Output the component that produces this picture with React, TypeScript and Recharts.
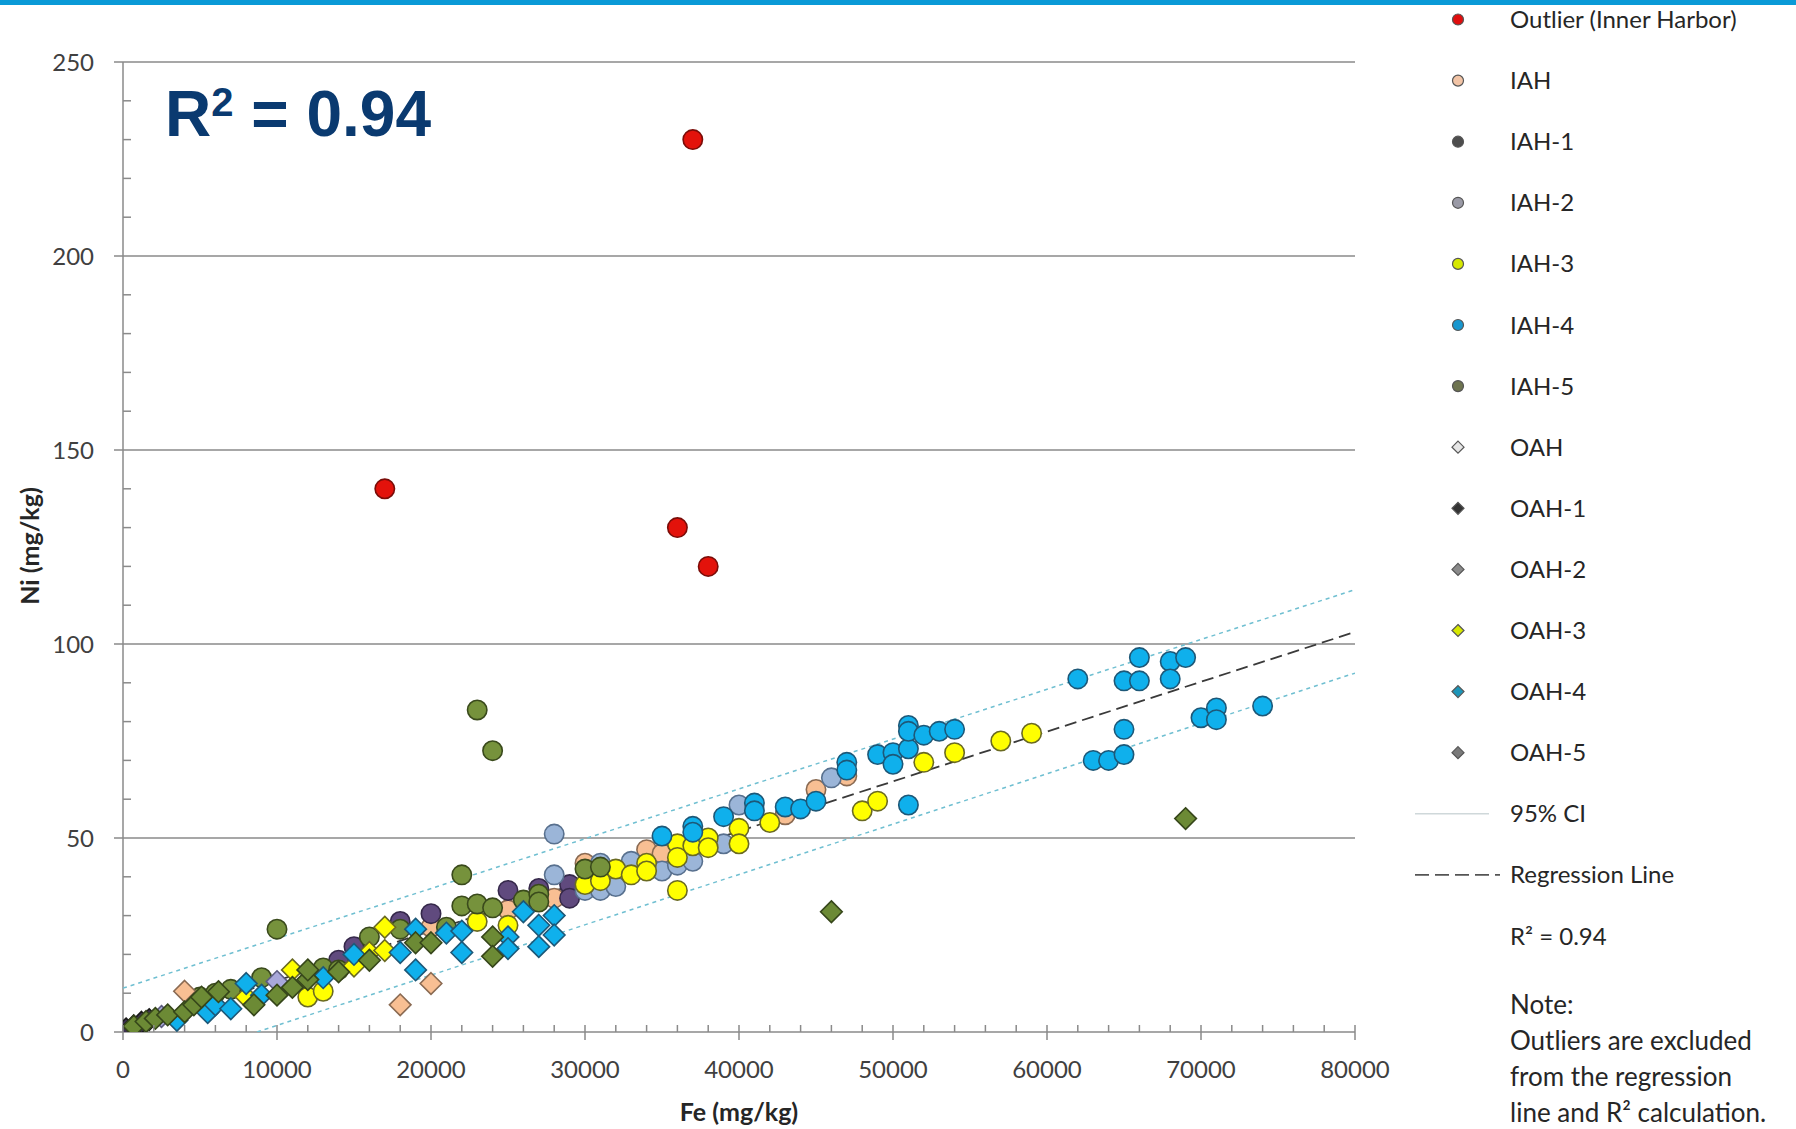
import React from 'react';
import { ScatterChart, Scatter, XAxis, YAxis, ReferenceLine } from 'recharts';

type Pair = [number, number];

// [Fe, Ni] in mg/kg
const outlierInnerHarbor: Pair[] = [[17000, 140], [37000, 230], [36000, 130], [38000, 120]];
const iah: Pair[] = [[20000, 27], [25000, 31.5], [28000, 34.5], [30000, 43.5], [34000, 47], [35000, 46], [43000, 56], [45000, 62.5], [47000, 66]];
const iah1: Pair[] = [[14000, 18.5], [15000, 22], [18000, 28.5], [20000, 30.5], [25000, 36.5], [27000, 37], [29000, 38], [29000, 34.5]];
const iah2: Pair[] = [[28000, 51], [28000, 40.5], [30000, 36.5], [31000, 36.5], [31000, 43.5], [32000, 37.5], [33000, 44], [35000, 41.5], [36000, 43], [37000, 44], [39000, 48.5], [40000, 58.5], [46000, 65.5]];
const iah3: Pair[] = [[12000, 9], [13000, 10.5], [23000, 28.5], [25000, 27.5], [30000, 38], [31000, 39], [32000, 42], [33000, 40.5], [34000, 43.5], [34000, 41.5], [36000, 48.5], [36000, 45], [36000, 36.5], [37000, 48], [38000, 50], [38000, 47.5], [40000, 52.5], [40000, 48.5], [42000, 54], [48000, 57], [49000, 59.5], [52000, 69.5], [54000, 72], [57000, 75], [59000, 77]];
const iah4: Pair[] = [[35000, 50.5], [37000, 53], [37000, 51.5], [39000, 55.5], [41000, 59], [41000, 57], [43000, 58], [44000, 57.5], [45000, 59.5], [47000, 69.5], [47000, 67.5], [49000, 71.5], [50000, 72], [50000, 69], [51000, 73], [51000, 79], [51000, 77.5], [51000, 58.5], [52000, 76.5], [53000, 77.5], [54000, 78], [62000, 91], [63000, 70], [64000, 70], [65000, 71.5], [65000, 78], [65000, 90.5], [66000, 90.5], [66000, 96.5], [68000, 95.5], [68000, 91], [69000, 96.5], [70000, 81], [71000, 83.5], [71000, 80.5], [74000, 84]];
const iah5: Pair[] = [[5000, 9], [6000, 10], [7000, 11], [9000, 14], [10000, 26.5], [13000, 16.5], [14000, 16], [16000, 24.5], [18000, 26.5], [21000, 27], [22000, 40.5], [22000, 32.5], [23000, 83], [23000, 33], [24000, 72.5], [24000, 32], [26000, 34], [27000, 35.5], [27000, 33.5], [30000, 42], [31000, 42.5]];
const oah: Pair[] = [[4000, 10.5], [18000, 7], [20000, 12.5]];
const oah1: Pair[] = [[200, 0.8], [700, 1.6], [1200, 2.5], [1700, 3.2]];
const oah2: Pair[] = [[10000, 13], [2500, 4]];
const oah3: Pair[] = [[8000, 9], [11000, 16], [15000, 17], [16000, 20.5], [17000, 27], [17000, 21]];
const oah4: Pair[] = [[3500, 3], [5500, 5], [6000, 7], [7000, 6], [8000, 12.5], [9000, 9.5], [13000, 14], [15000, 20], [18000, 20.5], [19000, 26.5], [19000, 16], [21000, 25.5], [22000, 26], [22000, 20.5], [25000, 24.5], [25000, 21.5], [26000, 31], [27000, 27.5], [27000, 22], [28000, 30], [28000, 25]];
const oah5: Pair[] = [[700, 1.5], [1500, 2.7], [2100, 3.5], [2900, 4.4], [4000, 5.2], [4600, 7], [5100, 9], [6200, 10.4], [8500, 7], [10000, 9.5], [11000, 11.5], [12000, 13.5], [12000, 16], [14000, 15.5], [16000, 18.5], [19000, 23], [20000, 23], [24000, 24.5], [24000, 19.5], [46000, 31], [69000, 55]];

// line end points
const regressionLine: Pair[] = [[0, 0.4], [80000, 103.1]];
const ciUpper: Pair[] = [[0, 11.3], [80000, 114]];
const ciLower: Pair[] = [[8700, 0], [80000, 92.5]];

const xMajor = [0, 10000, 20000, 30000, 40000, 50000, 60000, 70000, 80000];
const yMajor = [0, 50, 100, 150, 200, 250];
const xTicks = Array.from({ length: 41 }, (_, i) => i * 2000);
const yTicks = Array.from({ length: 26 }, (_, i) => i * 10);

const toPts = (p: Pair[]) => p.map(([fe, ni]) => ({ fe, ni }));

const series = [
  { name: 'Outlier (Inner Harbor)', data: outlierInnerHarbor, diamond: false, fill: '#e3120b', stroke: '#7a0c08', legend: '#e00d0d' },
  { name: 'IAH', data: iah, diamond: false, fill: '#f8bf93', stroke: '#8a6a52', legend: '#f2c4a6' },
  { name: 'IAH-1', data: iah1, diamond: false, fill: '#604a7e', stroke: '#35284a', legend: '#4d4d4d' },
  { name: 'IAH-2', data: iah2, diamond: false, fill: '#9bb5d8', stroke: '#58708e', legend: '#9a9aa6' },
  { name: 'IAH-3', data: iah3, diamond: false, fill: '#ffff00', stroke: '#6a6a22', legend: '#d6e800' },
  { name: 'IAH-4', data: iah4, diamond: false, fill: '#0fb0ec', stroke: '#1d5878', legend: '#1897cf' },
  { name: 'IAH-5', data: iah5, diamond: false, fill: '#76923c', stroke: '#3a4a1c', legend: '#6e7450' },
  { name: 'OAH', data: oah, diamond: true, fill: '#f8bf93', stroke: '#8a6a52', legend: '#e6e6e6' },
  { name: 'OAH-1', data: oah1, diamond: true, fill: '#3d3150', stroke: '#1a1a1a', legend: '#333333' },
  { name: 'OAH-2', data: oah2, diamond: true, fill: '#a8a8da', stroke: '#5c5c80', legend: '#8a8a8a' },
  { name: 'OAH-3', data: oah3, diamond: true, fill: '#ffff00', stroke: '#6a6a22', legend: '#d6e800' },
  { name: 'OAH-4', data: oah4, diamond: true, fill: '#0fb0ec', stroke: '#1d5878', legend: '#1d95b8' },
  { name: 'OAH-5', data: oah5, diamond: true, fill: '#6c8a35', stroke: '#36461a', legend: '#7a7a7a' },
];

const font = "Lato, 'Noto Sans', sans-serif";
const axisGray = '#8a8a8a';

const makeShape = (s: any) => (p: any) => {
  const { cx, cy } = p;
  if (cx == null || cy == null) return <g />;
  if (s.diamond) {
    const h = 10.8;
    return (
      <polygon
        points={`${cx},${cy - h} ${cx + h},${cy} ${cx},${cy + h} ${cx - h},${cy}`}
        fill={s.fill}
        stroke={s.stroke}
        strokeWidth={1.6}
      />
    );
  }
  return <circle cx={cx} cy={cy} r={9.7} fill={s.fill} stroke={s.stroke} strokeWidth={1.6} />;
};

const XTick = (props: any) => {
  const { x, y, payload } = props;
  const major = xMajor.includes(payload.value);
  return (
    <g>
      <line x1={x} x2={x} y1={y - 7} y2={major ? y + 8 : y} stroke={axisGray} strokeWidth={1.5} />
      {major && (
        <text x={x} y={y + 46} textAnchor="middle" fontFamily={font} fontSize={24} fill="#404040">
          {payload.value}
        </text>
      )}
    </g>
  );
};

const YTick = (props: any) => {
  const { x, y, payload } = props;
  const major = yMajor.includes(payload.value);
  return (
    <g>
      <line x1={major ? x - 9 : x} x2={major ? x : x + 8} y1={y} y2={y} stroke={axisGray} strokeWidth={1.5} />
      {major && (
        <text x={x - 29} y={y + 8.5} textAnchor="end" fontFamily={font} fontSize={24} fill="#404040">
          {payload.value}
        </text>
      )}
    </g>
  );
};

const noShape = () => <g />;

const LegendPanel = () => {
  const first = 19.5;
  const step = 61.1;
  const mx = 1458;
  const tx = 1510;
  const textProps = { fontFamily: font, fontSize: 24, fill: '#262626' };
  return (
    <svg width={1796} height={1129} style={{ position: 'absolute', left: 0, top: 0, pointerEvents: 'none' }}>
      {series.map((s, i) => {
        const cy = first + i * step;
        const h = 6;
        return (
          <g key={s.name}>
            {s.diamond ? (
              <polygon
                points={`${mx},${cy - h} ${mx + h},${cy} ${mx},${cy + h} ${mx - h},${cy}`}
                fill={s.legend}
                stroke="#555"
                strokeWidth={1.2}
              />
            ) : (
              <circle cx={mx} cy={cy} r={5.5} fill={s.legend} stroke="#555" strokeWidth={1.2} />
            )}
            <text x={tx} y={cy + 8.5} {...textProps}>{s.name}</text>
          </g>
        );
      })}
      <line x1={1415} x2={1489} y1={first + 13 * step} y2={first + 13 * step} stroke="#cfd8da" strokeWidth={1.5} />
      <text x={tx} y={first + 13 * step + 8.5} {...textProps}>95% CI</text>
      <line x1={1415} x2={1500} y1={first + 14 * step} y2={first + 14 * step} stroke="#555" strokeWidth={1.6} strokeDasharray="14 6" />
      <text x={tx} y={first + 14 * step + 8.5} {...textProps}>Regression Line</text>
      <text x={tx} y={first + 15 * step + 8.5} {...textProps}>R² = 0.94</text>
      {['Note:', 'Outliers are excluded', 'from the regression', 'line and R² calculation.'].map((t, i) => (
        <text key={t} x={tx} y={1004.5 + i * 36 + 9} fontFamily={font} fontSize={26} fill="#262626">{t}</text>
      ))}
      <text
        x={29}
        y={546}
        transform="rotate(-90 29 546)"
        textAnchor="middle"
        dominantBaseline="central"
        fontFamily={font}
        fontWeight={700}
        fontSize={25}
        fill="#262626"
      >
        Ni (mg/kg)
      </text>
      <text x={739} y={1121} textAnchor="middle" fontFamily={font} fontWeight={700} fontSize={25} fill="#262626">
        Fe (mg/kg)
      </text>
    </svg>
  );
};

export default function App() {
  return (
    <div style={{ position: 'absolute', left: 0, top: 0, width: 1796, height: 1129, background: '#fff', overflow: 'hidden' }}>
      <div style={{ position: 'absolute', left: 0, top: 0, width: 1796, height: 5, background: '#0a9ad7' }} />
      <ScatterChart width={1796} height={1129} margin={{ top: 62, right: 441, bottom: 37, left: 53 }}>
        {yMajor.filter((v) => v > 0).map((v) => (
          <ReferenceLine key={v} y={v} stroke={axisGray} strokeWidth={1.5} ifOverflow="extendDomain" />
        ))}
        <XAxis
          type="number"
          dataKey="fe"
          domain={[0, 80000]}
          ticks={xTicks}
          interval={0}
          height={60}
          tickSize={0}
          tickMargin={0}
          tickLine={false}
          tick={<XTick />}
          axisLine={{ stroke: axisGray, strokeWidth: 1.5 }}
          allowDataOverflow
        />
        <YAxis
          type="number"
          dataKey="ni"
          domain={[0, 250]}
          ticks={yTicks}
          interval={0}
          width={70}
          tickSize={0}
          tickMargin={0}
          tickLine={false}
          tick={<YTick />}
          axisLine={{ stroke: axisGray, strokeWidth: 1.5 }}
          allowDataOverflow
        />
        <Scatter
          data={toPts(ciUpper)}
          line={{ stroke: '#6fbfd1', strokeWidth: 1.5, strokeDasharray: '4 4' }}
          shape={noShape}
          isAnimationActive={false}
        />
        <Scatter
          data={toPts(ciLower)}
          line={{ stroke: '#6fbfd1', strokeWidth: 1.5, strokeDasharray: '4 4' }}
          shape={noShape}
          isAnimationActive={false}
        />
        <Scatter
          data={toPts(regressionLine)}
          line={{ stroke: '#3a3a3a', strokeWidth: 1.8, strokeDasharray: '12 6' }}
          shape={noShape}
          isAnimationActive={false}
        />
        {series.map((s) => (
          <Scatter key={s.name} name={s.name} data={toPts(s.data)} shape={makeShape(s)} isAnimationActive={false} />
        ))}
      </ScatterChart>
      <div
        style={{
          position: 'absolute',
          left: 165,
          top: 82,
          fontFamily: "'Liberation Sans', Arial, sans-serif",
          fontWeight: 700,
          fontSize: 64,
          lineHeight: '64px',
          color: '#0a3a70',
          whiteSpace: 'nowrap',
        }}
      >
        R<span style={{ fontSize: 40, position: 'relative', top: -20 }}>2</span> = 0.94
      </div>
      <LegendPanel />
    </div>
  );
}
